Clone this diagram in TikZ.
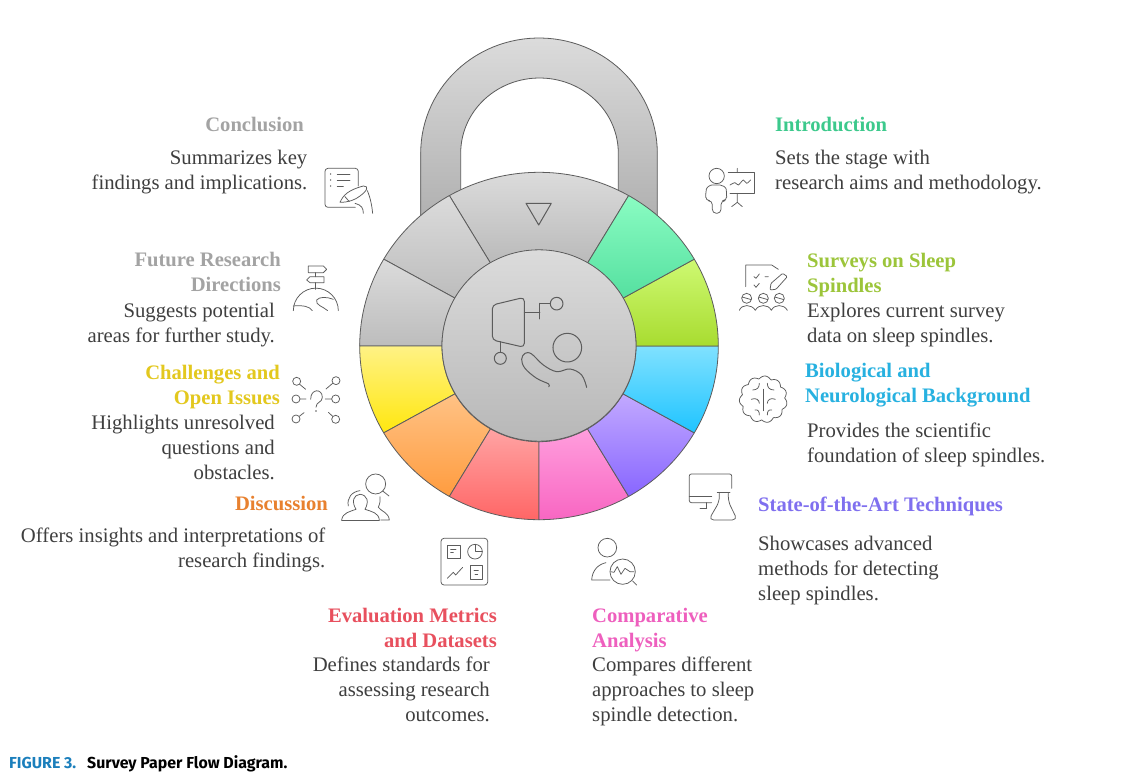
\documentclass[tikz,border=0pt]{standalone}
\usepackage{fontspec}
\setmainfont{Liberation Serif}
\newfontfamily\capfont{Fira Sans}
\definecolor{bodytxt}{HTML}{3F3F3F}
\definecolor{cGrey}{HTML}{A3A3A3}
\definecolor{cMint}{HTML}{3CC98C}
\definecolor{cLime}{HTML}{9CC53A}
\definecolor{cBlue}{HTML}{27B1E0}
\definecolor{cPurple}{HTML}{7F6FEF}
\definecolor{cPink}{HTML}{EE5FBE}
\definecolor{cRed}{HTML}{E8505E}
\definecolor{cOrange}{HTML}{E8812F}
\definecolor{cYellow}{HTML}{E3C81E}
\definecolor{iconc}{HTML}{5C5C5C}
\definecolor{capblue}{HTML}{1B7FBC}
\definecolor{gyA}{HTML}{FFF285}\definecolor{gyB}{HTML}{FFE70F}
\definecolor{orA}{HTML}{FFC285}\definecolor{orB}{HTML}{FF9C3F}
\definecolor{rdA}{HTML}{FFA3A3}\definecolor{rdB}{HTML}{FF6666}
\definecolor{pkA}{HTML}{FF9EDD}\definecolor{pkB}{HTML}{F866C2}
\definecolor{puA}{HTML}{C2A9FF}\definecolor{puB}{HTML}{8866FF}
\definecolor{blA}{HTML}{80E1FF}\definecolor{blB}{HTML}{1FC4FF}
\definecolor{lmA}{HTML}{CEF972}\definecolor{lmB}{HTML}{A8DC30}
\definecolor{mtA}{HTML}{8AFCC2}\definecolor{mtB}{HTML}{55E0A0}
\tikzset{
  segline/.style={draw=iconc,line width=0.8pt,line join=round},
  ico/.style={draw=iconc,line width=0.75pt,line cap=round,line join=round,fill=none},
  bigico/.style={draw=iconc,line width=1pt,line cap=round,line join=round,fill=none},
  ttl/.style={inner sep=0pt,font=\fontsize{20.6}{25}\selectfont\bfseries},
  bdy/.style={inner sep=0pt,text=bodytxt,font=\fontsize{20.7}{25}\selectfont},
  zoomed/.style n args={2}{shift={(#1,#2)},x=0.3333pt,y=-0.3333pt},
}
\newcommand\seg[4]{\path[segline,top color=#3,bottom color=#4]
  plot[domain=#1:#2,samples=30] ({539+179.3*cos(\x)},{346-173.7*sin(\x)})
  -- plot[domain=#2:#1,samples=30] ({539+97*cos(\x)},{346-95.7*sin(\x)}) -- cycle;}
\begin{document}
\begin{tikzpicture}[x=1pt,y=-1pt]
\useasboundingbox (0,0) rectangle (1125,779);
\fill[white] (0,0) rectangle (1125,779);
% shackle
\path[segline,top color=black!14,bottom color=black!32]
  (420.7,230) -- (420.7,153)
  -- plot[domain=180:0,samples=60] ({539+118.3*cos(\x)},{153-115*sin(\x)})
  -- (657.3,230) -- (618.3,230) -- (618.3,153)
  -- plot[domain=0:180,samples=60] ({539.5+78.8*cos(\x)},{153-75*sin(\x)})
  -- (460.7,230) -- cycle;
% wheel
\seg{60}{120}{black!14}{black!27}
\seg{120}{150}{black!14}{black!26}
\seg{150}{180}{black!14}{black!26}
\seg{180}{210}{gyA}{gyB}
\seg{210}{240}{orA}{orB}
\seg{240}{270}{rdA}{rdB}
\seg{270}{300}{pkA}{pkB}
\seg{300}{330}{puA}{puB}
\seg{330}{360}{blA}{blB}
\seg{0}{30}{lmA}{lmB}
\seg{30}{60}{mtA}{mtB}
\path[segline,top color=black!14,bottom color=black!28]
  (539,345.5) ellipse [x radius=97,y radius=95.7];
\draw[bigico] (526,203.3) -- (551.3,203.3) -- (538.7,225) -- cycle;
% central icon
\begin{scope}[zoomed={340}{260}]
\draw[bigico,rounded corners=4pt] (457,240) -- (457,135) -- (553,112) -- (553,262) -- cycle;
\draw[bigico] (553,158) -- (600,158) (600,130) -- (600,177) (600,130) -- (630,130);
\draw[bigico] (650,131) circle (19);
\draw[bigico] (481,245) -- (481,277);
\draw[bigico] (481,295) circle (18);
\draw[bigico] (682,263) circle (43);
\draw[bigico] plot[smooth,tension=0.6] coordinates {(626,380) (626,372) (590,355) (555,325) (545,298) (555,280) (575,282) (610,315) (650,335) (690,327) (725,345) (740,382)};
\end{scope}
% left icons
\begin{scope}[zoomed={280}{150}]
% conclusion
\draw[ico,rounded corners=3pt] (235,108) -- (235,55) -- (135,55) -- (135,172) -- (226,172);
\foreach \yy in {72,90,108} \fill[iconc] (152,\yy) circle (2.5);
\draw[ico] (172,72) -- (210,72) (172,90) -- (210,90) (172,108) -- (190,108);
\draw[ico] (180,157) .. controls (190,135) and (205,120) .. (250,108) .. controls (268,108) and (262,122) .. (240,138) .. controls (225,150) and (205,157) .. (180,157);
\draw[ico] (195,140) -- (208,155);
\draw[ico] (262,122) .. controls (272,145) and (276,170) .. (278,190);
\draw[ico] (225,160) .. controls (245,165) and (250,175) .. (250,190);
% future
\draw[ico] (40,482) arc[start angle=180,end angle=360,radius=67.5];
\draw[ico] (40,468) .. controls (70,465) and (90,470) .. (97,482);
\draw[ico] (143,482) .. controls (130,470) and (105,465) .. (110,450) .. controls (118,440) and (140,440) .. (160,448);
\draw[ico] (107,368) -- (107,380) (107,398) -- (107,418);
\draw[ico] (85,348) -- (130,348) -- (140,358) -- (130,368) -- (85,368) -- cycle;
\draw[ico] (132,380) -- (90,380) -- (80,390) -- (90,398) -- (132,398) -- cycle;
% challenges
\draw[ico] (92,748) .. controls (92,715) and (127,715) .. (127,742) .. controls (127,758) and (108,755) .. (108,772);
\fill[iconc] (108,783) circle (2.5);
\draw[ico] (50,694) circle (12) (48,747) circle (12) (48,807) circle (12);
\draw[ico] (168,692) circle (12) (167,747) circle (12) (167,808) circle (12);
\draw[ico] (59,703) -- (77,718) (60,747) -- (78,747) (58,799) -- (72,788);
\draw[ico] (158,700) -- (138,717) (155,747) -- (136,747) (158,799) -- (145,787);
% discussion
\draw[ico] (287,1002) circle (30);
\draw[ico] (308,1023) -- (327,1038);
\draw[ico] (185,1110) -- (298,1110);
\draw[ico] (185,1110) .. controls (188,1088) and (210,1085) .. (228,1078) .. controls (214,1055) and (220,1035) .. (240,1033) .. controls (262,1035) and (268,1055) .. (255,1078) .. controls (275,1085) and (296,1088) .. (298,1110);
\draw[ico] (205,1068) .. controls (200,1045) and (215,1025) .. (240,1022);
\draw[ico] (302,1110) -- (328,1110) .. controls (326,1088) and (305,1085) .. (295,1072) .. controls (300,1060) and (302,1050) .. (300,1040);
\end{scope}
% right icons
\begin{scope}[zoomed={680}{150}]
% introduction
\draw[ico] (110,78) circle (23);
\draw[ico,rounded corners=4pt] (97,190) -- (97,152) -- (77,152) -- (77,130) .. controls (80,112) and (90,105) .. (108,105) .. controls (128,105) and (138,112) .. (140,130) -- (140,152) -- (123,152) -- (123,190) -- cycle;
\draw[ico] (145,68) -- (222,68) -- (222,130) -- (150,130);
\draw[ico] (172,55) -- (172,68) (172,130) -- (172,155) (155,170) -- (172,157) -- (187,170);
\draw[ico] plot[smooth,tension=0.5] coordinates {(150,105) (165,98) (175,105) (190,90) (200,100) (212,90)};
% surveys
\draw[ico] (197,410) -- (197,345) -- (275,345) -- (295,358);
\draw[ico] (222,380) -- (228,385) -- (238,372) (255,380) -- (265,380) (222,405) -- (228,412) -- (238,400);
\draw[ico,rounded corners=1pt] (270,420) -- (273,400) -- (308,370) -- (322,380) -- (288,418) -- cycle;
\draw[ico] (200,445) circle (15) (250,445) circle (15) (298,445) circle (15);
\draw[ico] (186,441) -- (214,449) (236,441) -- (264,449) (284,441) -- (312,449);
\draw[ico] (178,481) .. controls (185,462) and (215,462) .. (226,481) .. controls (235,462) and (265,462) .. (274,481) .. controls (283,462) and (312,462) .. (322,481);
% brain
\draw[ico] plot[domain=0:360,samples=180] ({250+(64+8*abs(sin(5.5*\x+20)))*cos(\x)},{748+(62+8*abs(sin(5.5*\x+20)))*sin(\x)}) -- cycle;
\draw[ico] (250,718) -- (250,782);
\draw[ico] (218,720) .. controls (232,720) and (238,712) .. (238,700);
\draw[ico] (282,720) .. controls (268,720) and (262,712) .. (262,700);
\draw[ico] (214,748) .. controls (228,742) and (238,750) .. (238,760);
\draw[ico] (286,748) .. controls (272,742) and (262,750) .. (262,760);
\draw[ico] (225,780) .. controls (235,778) and (238,785) .. (238,795);
\draw[ico] (275,780) .. controls (265,778) and (262,785) .. (262,795);
% state of the art
\draw[ico,rounded corners=2pt] (155,1015) -- (155,972) -- (28,972) -- (28,1058) -- (95,1058);
\draw[ico] (28,1040) -- (95,1040) (80,1058) -- (80,1075) (60,1075) -- (80,1075);
\draw[ico] (112,1028) -- (150,1028);
\draw[ico,rounded corners=5pt] (118,1030) -- (118,1055) -- (86,1110) -- (172,1110) -- (145,1055) -- (145,1030);
\end{scope}
% bottom icons
\begin{scope}[zoomed={420}{525}]
\draw[ico,rounded corners=3pt] (63,40) rectangle (203,180);
\draw[ico] (82,60) rectangle (120,100);
\draw[ico] (92,72) -- (108,72) (92,83) -- (100,83);
\draw[ico] (165,80) circle (22);
\draw[ico] (165,58) -- (165,80) -- (187,80);
\draw[ico] (82,160) -- (100,142) -- (107,150) -- (128,127);
\draw[ico] (150,120) rectangle (187,162);
\draw[ico] (162,135) -- (175,135) (165,148) -- (173,148);
\draw[ico] (562,68) circle (28);
\draw[ico] (570,165) -- (515,165) .. controls (517,135) and (535,118) .. (558,113);
\draw[ico] (608,140) circle (38);
\draw[ico] (638,168) -- (650,180);
\draw[ico] (572,140) -- (582,142) -- (592,125) -- (603,148) -- (615,130) -- (630,140) -- (642,140);
\end{scope}
% titles and bodies (y = baseline of the last line)
\node[ttl,text=cGrey,anchor=base east] (t1) at (304,131.2) {Conclusion};
\node[bdy,anchor=base east,align=right] (b1) at (307.5,189.2) {Summarizes key\\findings and implications.};
\node[ttl,text=cMint,anchor=base west] (t2) at (775,131.2) {Introduction};
\node[bdy,anchor=base west,align=left] (b2) at (775,189.2) {Sets the stage with\\research aims and methodology.};
\node[ttl,text=cLime,anchor=base west,align=left] (t3) at (807,292.2) {Surveys on Sleep\\Spindles};
\node[bdy,anchor=base west,align=left] (b3) at (807,342.2) {Explores current survey\\data on sleep spindles.};
\node[ttl,text=cBlue,anchor=base west,align=left] (t4) at (805,402.2) {Biological and\\Neurological Background};
\node[bdy,anchor=base west,align=left] (b4) at (807,462.2) {Provides the scientific\\foundation of sleep spindles.};
\node[ttl,text=cPurple,anchor=base west] (t5) at (758,511.2) {State-of-the-Art Techniques};
\node[bdy,anchor=base west,align=left] (b5) at (758,600.2) {Showcases advanced\\methods for detecting\\sleep spindles.};
\node[ttl,text=cPink,anchor=base west,align=left] (t6) at (592,647.2) {Comparative\\Analysis};
\node[bdy,anchor=base west,align=left] (b6) at (592,721.2) {Compares different\\approaches to sleep\\spindle detection.};
\node[ttl,text=cRed,anchor=base east,align=right] (t7) at (497,647.2) {Evaluation Metrics\\and Datasets};
\node[bdy,anchor=base east,align=right] (b7) at (490,721.2) {Defines standards for\\assessing research\\outcomes.};
\node[ttl,text=cOrange,anchor=base east] (t8) at (328,510.2) {Discussion};
\node[bdy,anchor=base east,align=right] (b8) at (325.5,567.2) {Offers insights and interpretations of\\research findings.};
\node[ttl,text=cYellow,anchor=base east,align=right] (t9) at (280,404.2) {Challenges and\\Open Issues};
\node[bdy,anchor=base east,align=right] (b9) at (275,479.2) {Highlights unresolved\\questions and\\obstacles.};
\node[ttl,text=cGrey,anchor=base east,align=right] (t10) at (281,291.2) {Future Research\\Directions};
\node[bdy,anchor=base east,align=right] (b10) at (275,342.2) {Suggests potential\\areas for further study.};
% caption
\node[inner sep=0pt,anchor=base west,font=\capfont\fontsize{15.9}{17}\selectfont\bfseries,text=capblue] (c1) at (9,768) {FIGURE 3.};
\node[inner sep=0pt,anchor=base west,font=\capfont\fontsize{15.9}{17}\selectfont\bfseries] (c2) at (87,768) {Survey Paper Flow Diagram.};
\end{tikzpicture}
\end{document}
